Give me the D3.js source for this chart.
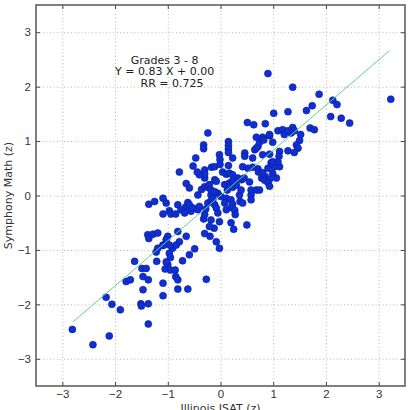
<!DOCTYPE html>
<html>
<head>
<meta charset="utf-8">
<script src="https://cdn.jsdelivr.net/npm/d3@7"></script>
<style>
  body { margin: 0; background: #fff; }
  svg { font-family: "DejaVu Sans", sans-serif; }
  .grid line { stroke: #b8b8b8; stroke-dasharray: 1,2.5; }
  .grid path { display: none; }
  .tick text { fill: #333; font-size: 11.5px; }
</style>
</head>
<body>
<div id="viz"></div>
<script>
// Illinois ISAT (x) vs Symphony Math (y), z scores
var isat = [
  -2.81, -2.42, -2.11, -1.37, -2.17, -2.06, -1.90, -1.51, -1.50, -1.37,
  -1.79, -1.71, -1.47, -1.37, -1.47, -1.09, -1.09, -0.81, -0.62, -0.27,
  -0.85, -0.81, -1.49, -1.41, -1.63, -1.21, -1.00, -1.05, -0.95, -0.86,
  -0.72, -0.59, -1.22, -0.97, -0.95, -1.03,
  -1.09, -1.19, -0.91, -1.38, -1.36, -1.28, -1.19, -1.00, -1.03, -0.97,
  -1.09, -0.84, -0.81, -0.65, -0.78, -0.49, -0.32, -0.18, -0.02, -0.12,
  -0.21, -0.30, -0.20, -0.08, -0.02, 0.20, 0.25, 0.50,
  -1.36, -1.25, -1.09, -1.03, -0.97, -1.09, -0.94, -0.85, -0.81, -0.66,
  -0.62, -0.75, -0.68, -0.59, -0.56, -0.52, -0.43, -0.40, -0.28, -0.30,
  -0.24, -0.18, -0.11, -0.08, -0.05, -0.18, -0.14, -0.05, 0.01, -0.43,
  0.11, 0.20, 0.23, 0.08, 0.11, 0.20, 0.27, 0.28, 0.36, 0.37,
  0.42, 0.58, 0.58, 0.58, 0.68, 0.74,
  -0.65, -0.59, -0.36, -0.30, -0.24, -0.21, -0.18, -0.11, -0.11, -0.08,
  -0.30, 0.08, 0.13, 0.17, 0.23, 0.30, 0.23, 0.33, 0.40, 0.45,
  0.55, 0.39, 0.78, 0.85, 0.84, 0.93, 0.90, 0.93, 0.71, 0.72,
  0.80, 0.99, 1.06, 1.12, 1.02, 0.96, 0.90, 0.52, 0.61, 0.42,
  0.04, 0.11, 0.17, 0.23, -0.30, -0.30, -0.40, -0.44, -0.52, -0.78,
  -0.17, -0.11,
  -0.47, -0.32, -0.32, -0.02, -0.01, -0.01, 0.15, 0.15, 0.15, 0.15,
  0.15, 0.23, 0.46, 0.46, 0.61, 0.65, 0.68, 0.71, 0.74, 0.68,
  0.80, 0.93, 0.99, 0.80, 0.93, 1.12, 1.11, 1.09, 0.99, 1.28,
  1.50, 1.44, 1.47, 1.40, 1.52, 0.82,
  -0.24, 0.51, 0.63, 0.85, 1.09, 1.18, 1.37, 1.40, 1.34, 1.21,
  1.70, 1.78, 1.01, 1.28, 1.63, 1.74, 1.87, 1.37, 0.90, 2.13,
  2.21, 2.09, 2.29, 2.45, 3.23, 0.93, 1.28
]

var symphony = [
  -2.46, -2.74, -2.58, -2.36, -1.87, -2.00, -2.10, -1.99, -2.03, -1.99,
  -1.58, -1.55, -1.49, -1.55, -1.73, -1.61, -1.84, -1.72, -1.72, -1.54,
  -1.49, -1.55, -1.34, -1.34, -1.21, -1.21, -1.27, -1.35, -1.37, -1.37,
  -1.20, -1.09, -1.04, -1.06, -1.14, -1.22,
  -0.91, -0.97, -0.97, -0.72, -0.79, -0.71, -0.69, -0.75, -0.81, -0.91,
  -0.92, -0.91, -0.66, -0.75, -0.85, -0.98, -0.43, -0.45, -0.48, -0.60,
  -0.57, -0.70, -0.75, -0.85, -0.97, -0.50, -0.62, -0.54,
  -0.16, -0.11, -0.05, -0.14, -0.28, -0.34, -0.34, -0.34, -0.17, -0.21,
  -0.13, -0.26, -0.32, -0.17, -0.29, -0.23, -0.26, -0.20, -0.25, -0.35,
  -0.14, -0.10, -0.17, -0.23, -0.32, 0.01, -0.06, 0.04, -0.02, 0.01,
  -0.05, -0.08, -0.16, -0.14, -0.26, -0.22, -0.27, -0.35, 0.01, -0.11,
  -0.14, 0.01, -0.08, 0.10, 0.10, 0.10,
  0.22, 0.14, 0.11, 0.16, 0.15, 0.20, 0.10, 0.07, 0.29, 0.26,
  0.32, 0.20, 0.10, 0.23, 0.15, 0.19, 0.27, 0.32, 0.29, 0.32,
  0.25, 0.10, 0.32, 0.35, 0.28, 0.30, 0.24, 0.17, 0.49, 0.43,
  0.42, 0.41, 0.32, 0.53, 0.53, 0.60, 0.50, 0.50, 0.52, 0.53,
  0.43, 0.39, 0.41, 0.38, 0.47, 0.40, 0.38, 0.43, 0.54, 0.43,
  0.52, 0.53,
  0.69, 0.93, 0.86, 0.75, 0.66, 0.57, 0.99, 0.92, 0.85, 0.79,
  0.55, 0.69, 0.78, 0.72, 0.69, 0.84, 0.87, 0.90, 0.98, 1.07,
  1.07, 1.10, 0.98, 0.75, 0.76, 0.81, 0.72, 0.62, 0.62, 0.82,
  1.01, 0.93, 0.87, 0.79, 1.12, 1.02,
  1.15, 1.34, 1.30, 1.32, 1.19, 1.21, 1.25, 1.19, 1.15, 1.12,
  1.24, 1.21, 1.51, 1.54, 1.56, 1.65, 1.86, 1.99, 2.24, 1.75,
  1.67, 1.45, 1.42, 1.33, 1.77, 1.12, 1.19
]

// fit line Y = 0.83 X + 0.00 drawn over the data range
var fitX = [-2.8, 3.2]
var slope = 0.83
var intercept = 0.0

var ticks = [-3, -2, -1, 0, 1, 2, 3]
var notes = ['Grades 3 - 8', 'Y = 0.83 X + 0.00', 'RR = 0.725']

let W = 409, H = 410
let margin = { top: 5, right: 4, bottom: 24, left: 36 }
let width = W - margin.left - margin.right
let height = H - margin.top - margin.bottom

let svg = d3.select('#viz').append('svg')
  .attr('width', W)
  .attr('height', H)

let chart = svg.append('g')
  .attr('transform', `translate(${margin.left}, ${margin.top})`)

let xScale = d3.scaleLinear().domain([-3.5, 3.5]).range([0, width])
let yScale = d3.scaleLinear().domain([-3.5, 3.5]).range([height, 0])
let fmt = (d) => d < 0 ? '\u2212' + Math.abs(d) : '' + d

// dotted grid
chart.append('g')
  .attr('class', 'grid')
  .attr('transform', `translate(0, ${height})`)
  .call(d3.axisBottom(xScale).tickValues(ticks).tickSize(-height).tickFormat(''))

chart.append('g')
  .attr('class', 'grid')
  .call(d3.axisLeft(yScale).tickValues(ticks).tickSize(-width).tickFormat(''))

// points
let data = isat.map((x, i) => ({ x: x, y: symphony[i] }))
chart.selectAll('.dot')
  .data(data)
  .enter()
  .append('circle')
  .attr('class', 'dot')
  .attr('cx', (d) => xScale(d.x))
  .attr('cy', (d) => yScale(d.y))
  .attr('r', 3.5)
  .attr('fill', '#0f2fd2')
  .attr('stroke', '#0a1f95')
  .attr('stroke-width', 0.6)

// regression line
chart.append('path')
  .datum(fitX)
  .attr('fill', 'none')
  .attr('stroke', '#62cf8e')
  .attr('stroke-width', 1)
  .attr('d', d3.line().x((d) => xScale(d)).y((d) => yScale(slope * d + intercept)))

// axes with inward ticks on all sides
let axBottom = chart.append('g')
  .attr('transform', `translate(0, ${height})`)
  .call(d3.axisBottom(xScale).tickValues(ticks).tickSize(-4).tickPadding(4).tickFormat(fmt))
let axLeft = chart.append('g')
  .call(d3.axisLeft(yScale).tickValues(ticks).tickSize(-4).tickPadding(5).tickFormat(fmt))
let axTop = chart.append('g')
  .call(d3.axisTop(xScale).tickValues(ticks).tickSize(-4).tickFormat(''))
let axRight = chart.append('g')
  .attr('transform', `translate(${width}, 0)`)
  .call(d3.axisRight(yScale).tickValues(ticks).tickSize(-4).tickFormat(''))

;[axBottom, axLeft, axTop, axRight].forEach((g) => {
  g.select('.domain').remove()
  g.selectAll('.tick line').attr('stroke', '#444')
})

chart.append('rect')
  .attr('width', width)
  .attr('height', height)
  .attr('fill', 'none')
  .attr('stroke', '#555')
  .attr('stroke-width', 1.5)

// annotation
chart.append('text')
  .attr('y', yScale(2.42))
  .attr('text-anchor', 'middle')
  .attr('font-size', 11)
  .attr('fill', '#222')
  .selectAll('tspan')
  .data(notes)
  .enter()
  .append('tspan')
  .attr('x', (d, i) => xScale(i == 2 ? -0.92 : -1.06))
  .attr('dy', (d, i) => i == 0 ? 0 : 11.5)
  .text((d) => d)

svg.append('text')
  .attr('transform', `translate(12, ${margin.top + height / 2}) rotate(-90)`)
  .attr('text-anchor', 'middle')
  .attr('font-size', 11)
  .attr('fill', '#333')
  .text('Symphony Math (z)')

svg.append('text')
  .attr('x', margin.left + width / 2)
  .attr('y', H + 2)
  .attr('text-anchor', 'middle')
  .attr('font-size', 11)
  .attr('fill', '#333')
  .text('Illinois ISAT (z)')
</script>
</body>
</html>
